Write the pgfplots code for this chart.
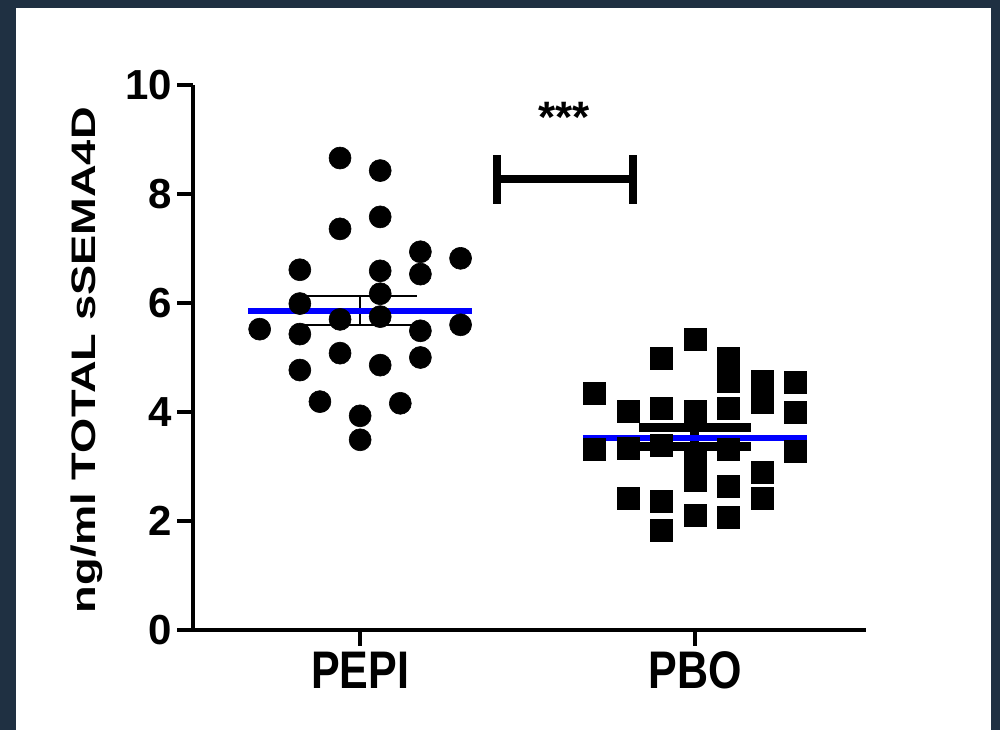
\documentclass[border=0pt]{standalone}
\usepackage{fontspec}
\setmainfont{Liberation Sans}
\usepackage{graphicx}
\usepackage{pgfplots}
\usepackage{pgfplotstable}
\pgfplotsset{compat=1.18}
\definecolor{frame}{RGB}{31,48,66}

\pgfplotstableread{
x y
0.94 8.66
1.06 8.43
1.06 7.58
0.94 7.36
1.18 6.94
1.30 6.82
0.82 6.61
1.06 6.59
1.18 6.53
1.06 6.17
0.82 5.99
0.94 5.70
1.06 5.75
0.70 5.52
0.82 5.43
1.18 5.49
1.30 5.60
0.94 5.08
1.18 5.00
1.06 4.86
0.82 4.77
0.88 4.19
1.12 4.16
1.00 3.93
1.00 3.49
}\pepi

\pgfplotstableread{
x y
2.00 5.33
1.90 4.99
2.10 4.98
2.10 4.56
2.20 4.57
2.20 4.17
2.30 4.54
2.30 4.00
1.70 4.35
1.80 4.01
1.90 4.06
2.00 4.02
2.10 4.06
1.70 3.32
1.80 3.33
1.90 3.38
2.00 3.16
2.00 2.75
2.10 3.32
2.30 3.27
2.20 2.89
2.10 2.64
2.20 2.42
1.80 2.42
1.90 2.37
2.00 2.10
2.10 2.06
1.90 1.83
}\pbo

\begin{document}
\begin{tikzpicture}
\fill[frame] (0,0) rectangle (500pt,365pt);
\fill[white] (8pt,0) rectangle (495.5pt,361pt);
\begin{axis}[
  at={(96.35pt,50pt)}, anchor=south west,
  scale only axis, width=336.5pt, height=272.5pt,
  xmin=0.5, xmax=2.51, ymin=0, ymax=10,
  axis x line*=bottom, axis y line*=left,
  axis line style={line width=2pt, -},
  xtick={1,2},
  xticklabels={\scalebox{1}[1.23]{PEPI},\scalebox{1}[1.23]{PBO}},
  ytick={0,2,4,6,8,10},
  tick align=outside, major tick length=7.75pt,
  tick style={line width=2pt, black},
  /pgf/number format/assume math mode=true,
  yticklabel style={font=\fontsize{21}{21}\selectfont\bfseries, anchor=east, inner sep=0pt, xshift=-2.25pt},
  xticklabel style={font=\fontsize{21.5}{21.5}\selectfont\bfseries, anchor=base, inner sep=0pt, yshift=-21.5pt},
  ylabel={\scalebox{1.33}[1]{ng/ml TOTAL sSEMA4D}},
  every axis y label/.style={at={(axis description cs:-0.158,0.495)}, rotate=90, anchor=center, inner sep=0pt, font=\fontsize{17}{17}\selectfont\bfseries},
  clip=false,
]
\addplot[only marks, mark=*, mark size=5.5pt, mark options={fill=black, draw=black, line width=0.3pt}] table[x=x, y=y] {\pepi};
\addplot[only marks, mark=square*, mark size=5.5pt, mark options={fill=black, draw=black, line width=0.3pt}] table[x=x, y=y] {\pbo};
% SEM bars PEPI
\addplot[black, line width=1pt, mark=none] coordinates {(0.83,6.13) (1.17,6.13)};
\addplot[black, line width=1pt, mark=none] coordinates {(0.83,5.60) (1.17,5.60)};
\addplot[black, line width=1pt, mark=none] coordinates {(1,5.60) (1,6.13)};
% SEM bars PBO
\addplot[black, line width=4.5pt, mark=none] coordinates {(1.833,3.72) (2.167,3.72)};
\addplot[black, line width=4.5pt, mark=none] coordinates {(1.833,3.36) (2.167,3.36)};
\addplot[black, line width=4.5pt, mark=none] coordinates {(2,3.36) (2,3.72)};
% means
\addplot[blue, line width=3pt, mark=none] coordinates {(0.665,5.85) (1.335,5.85)};
\addplot[blue, line width=3pt, mark=none] coordinates {(1.665,3.53) (2.335,3.53)};
% significance bracket
\addplot[black, line width=4pt, mark=none] coordinates {(1.41,8.27) (1.816,8.27)};
\addplot[black, line width=4pt, mark=none] coordinates {(1.41,7.82) (1.41,8.72)};
\addplot[black, line width=4pt, mark=none] coordinates {(1.816,7.82) (1.816,8.72)};
\node[anchor=base, inner sep=0pt, font=\fontsize{22}{22}\selectfont\bfseries] at (axis cs:1.61,9.13) {***};
\end{axis}
\pgfresetboundingbox
\useasboundingbox (0,0) rectangle (500pt,365pt);
\end{tikzpicture}
\end{document}
